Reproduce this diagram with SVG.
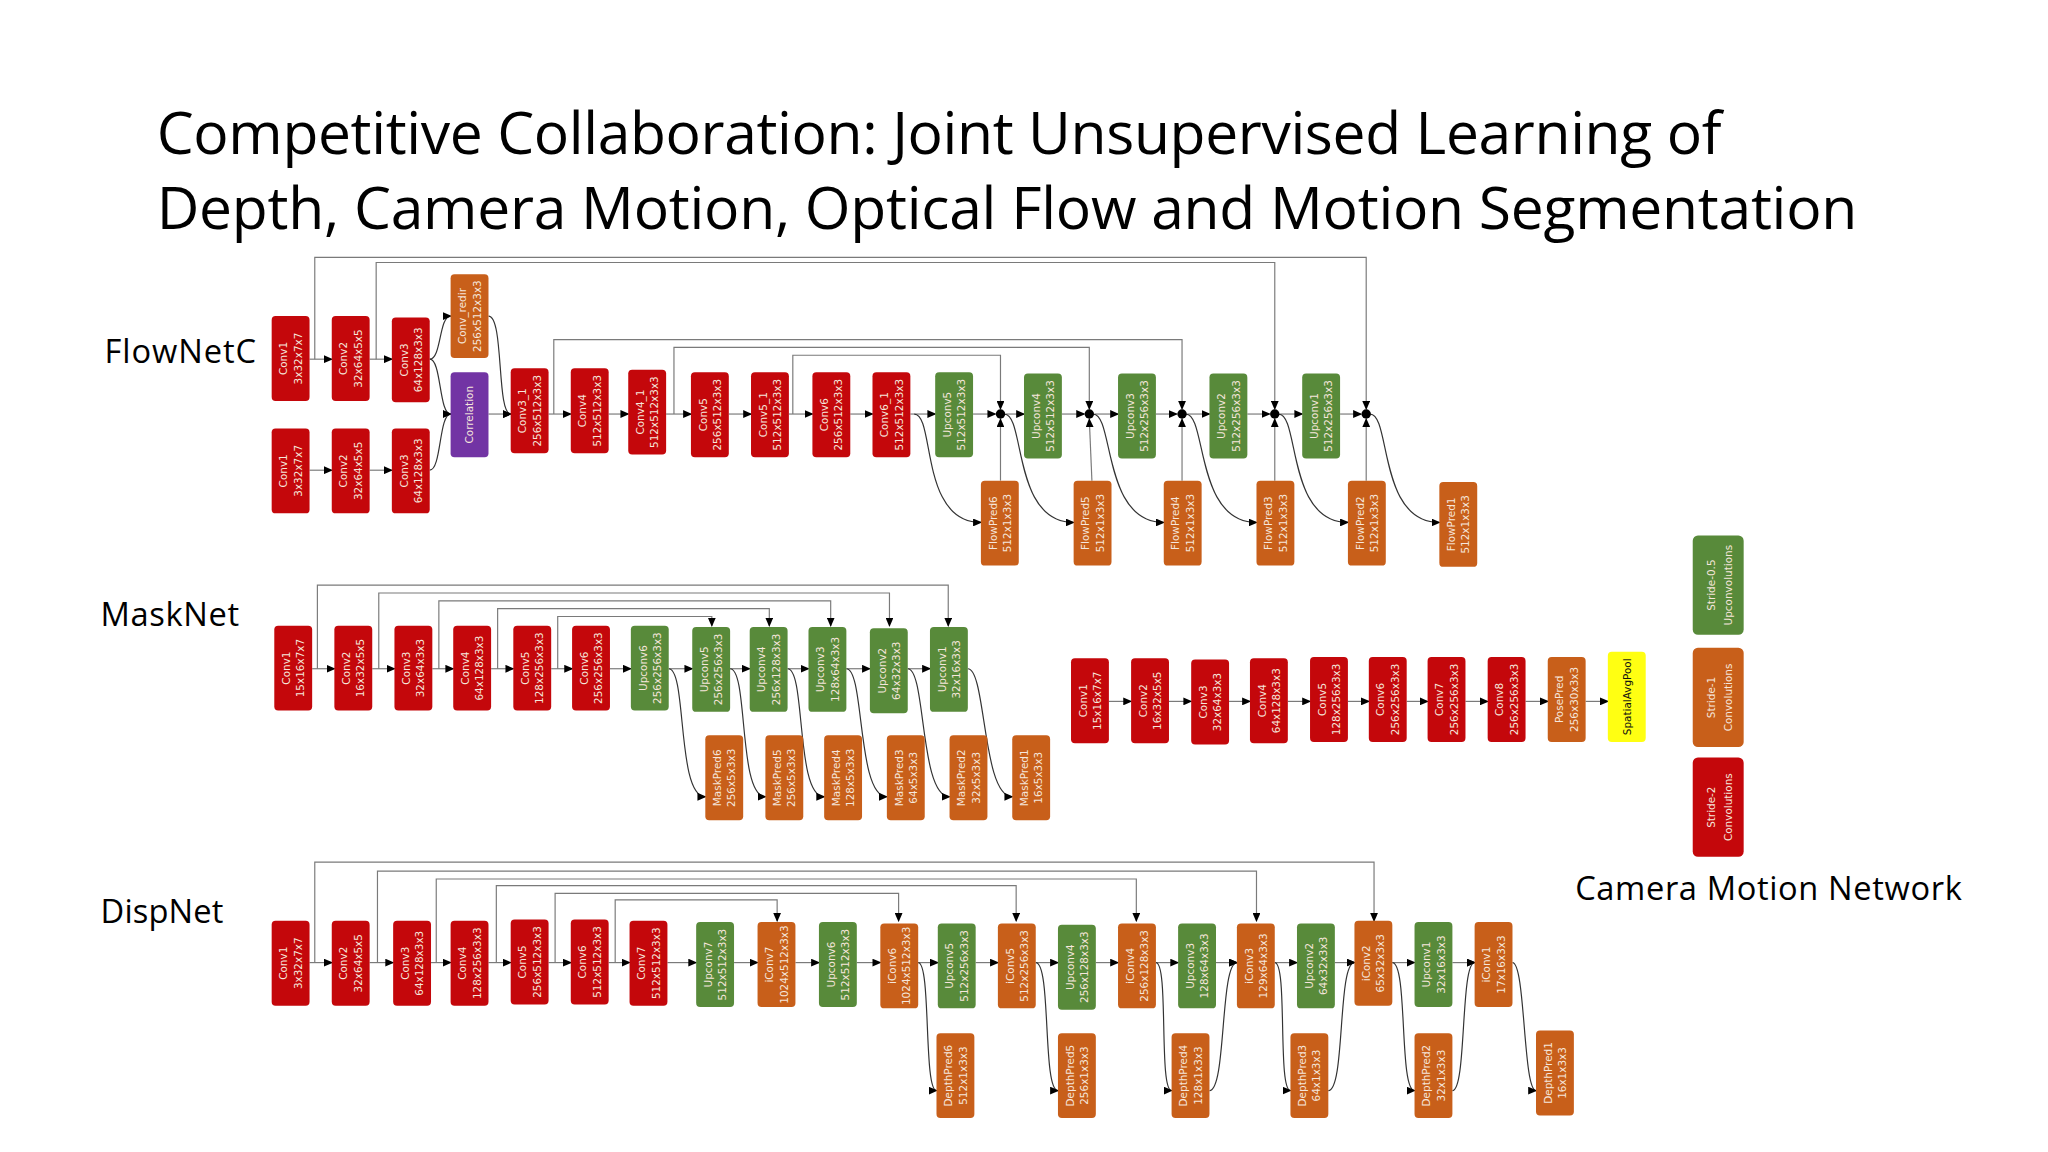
<svg xmlns="http://www.w3.org/2000/svg" width="2048" height="1152" viewBox="0 0 2048 1152">
<style>
.t{font-family:"Open Sans","Liberation Sans",sans-serif;fill:#000}
.n{font-family:"DejaVu Sans","Liberation Sans",sans-serif;font-size:8px;fill:#f6e6dc;text-anchor:middle}
.y .n{fill:#111}
.r rect{fill:#c4070b}
.o rect{fill:#c85f1a}
.g rect{fill:#588a3a}
.p rect{fill:#7234a4}
.y rect{fill:#ffff12}
.c path,.c line{stroke:#7a7a7a;stroke-width:0.9;fill:none}
.c .k{stroke:#333}
.a{marker-end:url(#ar)}
</style>
<defs>
<marker id="ar" markerWidth="7" markerHeight="6" refX="6" refY="3" orient="auto" markerUnits="userSpaceOnUse"><path d="M0,0L7,3L0,6z" fill="#000"/></marker>
</defs>
<rect width="2048" height="1152" fill="#fff"/>
<g transform="scale(1.30612)">
<text class="t" x="120" y="118" font-size="45" textLength="1198">Competitive Collaboration: Joint Unsupervised Learning of</text>
<text class="t" x="120" y="175" font-size="45" textLength="1302">Depth, Camera Motion, Optical Flow and Motion Segmentation</text>
<text class="t" x="80" y="278" font-size="25" textLength="116">FlowNetC</text>
<text class="t" x="77" y="479" font-size="25" textLength="106">MaskNet</text>
<text class="t" x="77" y="707" font-size="25" textLength="94">DispNet</text>
<text class="t" x="1206" y="689" font-size="25" textLength="296">Camera Motion Network</text>

<g id="connectors" class="c">
<line class="a" x1="237" y1="275" x2="254" y2="275"/><line class="a" x1="283" y1="275" x2="300" y2="275"/>
<line class="a" x1="237" y1="360" x2="254" y2="360"/><line class="a" x1="283" y1="360" x2="300" y2="360"/>
<path class="a k" d="M329,275C338,275 336,242 345,242"/>
<path class="a k" d="M329,275C338,275 336,317 345,317"/>
<path class="a k" d="M329,360C338,360 336,317 345,317"/>
<path class="a k" d="M374,242C386,242 380,317 391,317"/>
<line class="a" x1="374" y1="317" x2="391" y2="317"/>
<line class="a" x1="420" y1="317" x2="437" y2="317"/><line class="a" x1="466" y1="317" x2="481" y2="317"/>
<line class="a" x1="510" y1="317" x2="529" y2="317"/><line class="a" x1="558" y1="317" x2="575" y2="317"/>
<line class="a" x1="604" y1="317" x2="622" y2="317"/><line class="a" x1="651" y1="317" x2="668" y2="317"/>
<line class="a" x1="697" y1="317" x2="716" y2="317"/>
<line class="a" x1="745" y1="317" x2="762" y2="317"/><line class="a" x1="770" y1="317" x2="784" y2="317"/>
<line class="a" x1="813" y1="317" x2="830" y2="317"/><line class="a" x1="838" y1="317" x2="856" y2="317"/>
<line class="a" x1="885" y1="317" x2="901" y2="317"/><line class="a" x1="909" y1="317" x2="926" y2="317"/>
<line class="a" x1="955" y1="317" x2="972" y2="317"/><line class="a" x1="980" y1="317" x2="997" y2="317"/>
<line class="a" x1="1026" y1="317" x2="1042" y2="317"/>
<path class="a" d="M241,275V197H1046V313"/>
<path class="a" d="M288,275V201H976V313"/>
<path class="a" d="M424,317V260H905V313"/>
<path class="a" d="M516,317V266H834V313"/>
<path class="a" d="M607,317V272H766V313"/>
<line class="a" x1="766" y1="368" x2="766" y2="321"/><line class="a" x1="836" y1="368" x2="834" y2="321"/>
<line class="a" x1="905" y1="368" x2="905" y2="321"/><line class="a" x1="976" y1="368" x2="976" y2="321"/>
<line class="a" x1="1046" y1="368" x2="1046" y2="321"/>
<path class="a k" d="M700,317C716,317 704,400 751,400"/>
<path class="a k" d="M769,317C785,317 775,400 822,400"/>
<path class="a k" d="M837,317C853,317 844,400 891,400"/>
<path class="a k" d="M908,317C924,317 915,400 962,400"/>
<path class="a k" d="M979,317C995,317 985,400 1032,400"/>
<path class="a k" d="M1049,317C1065,317 1055,400 1102,400"/>
<g fill="#000"><circle cx="766" cy="317" r="3.6"/><circle cx="834" cy="317" r="3.6"/><circle cx="905" cy="317" r="3.6"/><circle cx="976" cy="317" r="3.6"/><circle cx="1046" cy="317" r="3.6"/></g>
<line class="a" x1="239" y1="512" x2="256" y2="512"/><line class="a" x1="285" y1="512" x2="302" y2="512"/>
<line class="a" x1="331" y1="512" x2="347" y2="512"/><line class="a" x1="376" y1="512" x2="393" y2="512"/>
<line class="a" x1="422" y1="512" x2="438" y2="512"/><line class="a" x1="467" y1="512" x2="483" y2="512"/>
<line class="a" x1="512" y1="512" x2="530" y2="512"/><line class="a" x1="559" y1="512" x2="574" y2="512"/>
<line class="a" x1="603" y1="512" x2="619" y2="512"/><line class="a" x1="648" y1="512" x2="666" y2="512"/>
<line class="a" x1="695" y1="512" x2="712" y2="512"/>
<path class="a" d="M243,512V448H726V479"/>
<path class="a" d="M290,512V454H681V479"/>
<path class="a" d="M336,512V460H636V479"/>
<path class="a" d="M381,512V466H589V479"/>
<path class="a" d="M427,512V472H545V479"/>
<path class="a k" d="M512,512C526,512 518,610 540,610"/>
<path class="a k" d="M559,512C573,512 565,610 586,610"/>
<path class="a k" d="M603,512C617,512 609,610 631,610"/>
<path class="a k" d="M648,512C662,512 656,610 679,610"/>
<path class="a k" d="M695,512C709,512 704,610 727,610"/>
<path class="a k" d="M741,512C755,512 752,610 775,610"/>
<line class="a" x1="849" y1="537" x2="866" y2="537"/><line class="a" x1="895" y1="537" x2="912" y2="537"/>
<line class="a" x1="941" y1="537" x2="957" y2="537"/><line class="a" x1="986" y1="537" x2="1003" y2="537"/>
<line class="a" x1="1032" y1="537" x2="1048" y2="537"/><line class="a" x1="1077" y1="537" x2="1093" y2="537"/>
<line class="a" x1="1122" y1="537" x2="1139" y2="537"/><line class="a" x1="1168" y1="537" x2="1185" y2="537"/>
<line class="a" x1="1214" y1="537" x2="1231" y2="537"/>
<line class="a" x1="237" y1="737" x2="254" y2="737"/><line class="a" x1="283" y1="737" x2="301" y2="737"/>
<line class="a" x1="330" y1="737" x2="345" y2="737"/><line class="a" x1="374" y1="737" x2="391" y2="737"/>
<line class="a" x1="420" y1="737" x2="437" y2="737"/><line class="a" x1="466" y1="737" x2="482" y2="737"/>
<line class="a" x1="511" y1="737" x2="533" y2="737"/><line class="a" x1="562" y1="737" x2="580" y2="737"/>
<line class="a" x1="609" y1="737" x2="627" y2="737"/><line class="a" x1="656" y1="737" x2="674" y2="737"/>
<line class="a" x1="703" y1="737" x2="718" y2="737"/><line class="a" x1="747" y1="737" x2="764" y2="737"/>
<line class="a" x1="793" y1="737" x2="810" y2="737"/><line class="a" x1="839" y1="737" x2="856" y2="737"/>
<line class="a" x1="885" y1="737" x2="902" y2="737"/><line class="a" x1="931" y1="737" x2="947" y2="737"/>
<line class="a" x1="976" y1="737" x2="993" y2="737"/><line class="a" x1="1022" y1="737" x2="1037" y2="737"/>
<line class="a" x1="1066" y1="737" x2="1083" y2="737"/><line class="a" x1="1112" y1="737" x2="1129" y2="737"/>
<path class="a" d="M241,737V660H1052V705"/>
<path class="a" d="M289,737V667H962V705"/>
<path class="a" d="M334,737V673H870V705"/>
<path class="a" d="M380,737V678H778V705"/>
<path class="a" d="M425,737V684H688V705"/>
<path class="a" d="M471,737V689H595V705"/>
<path class="a k" d="M703,737C713,737 707,835 717,835"/>
<path class="a k" d="M793,737C805,737 798,835 810,835"/>
<path class="a k" d="M885,737C895,737 887,835 897,835"/>
<path class="a k" d="M976,737C986,737 978,835 988,835"/>
<path class="a k" d="M1066,737C1078,737 1071,835 1083,835"/>
<path class="a k" d="M1158,737C1168,737 1166,835 1176,835"/>
<path class="a k" d="M926,835C939,835 934,737 947,737"/>
<path class="a k" d="M1017,835C1030,835 1024,737 1037,737"/>
<path class="a k" d="M1112,835C1123,835 1118,737 1129,737"/>
</g>

<g id="fc_conv1a" class="r"><rect x="208" y="242" width="29" height="65" rx="3"/><text class="n" transform="translate(220,274.5)rotate(-90)">Conv1</text><text class="n" transform="translate(231,274.5)rotate(-90)">3x32x7x7</text></g>
<g id="fc_conv2a" class="r"><rect x="254" y="242" width="29" height="65" rx="3"/><text class="n" transform="translate(266,274.5)rotate(-90)">Conv2</text><text class="n" transform="translate(277,274.5)rotate(-90)">32x64x5x5</text></g>
<g id="fc_conv3a" class="r"><rect x="300" y="243" width="29" height="65" rx="3"/><text class="n" transform="translate(312,275.5)rotate(-90)">Conv3</text><text class="n" transform="translate(323,275.5)rotate(-90)">64x128x3x3</text></g>
<g id="fc_conv1b" class="r"><rect x="208" y="328" width="29" height="65" rx="3"/><text class="n" transform="translate(220,360.5)rotate(-90)">Conv1</text><text class="n" transform="translate(231,360.5)rotate(-90)">3x32x7x7</text></g>
<g id="fc_conv2b" class="r"><rect x="254" y="328" width="29" height="65" rx="3"/><text class="n" transform="translate(266,360.5)rotate(-90)">Conv2</text><text class="n" transform="translate(277,360.5)rotate(-90)">32x64x5x5</text></g>
<g id="fc_conv3b" class="r"><rect x="300" y="328" width="29" height="65" rx="3"/><text class="n" transform="translate(312,360.5)rotate(-90)">Conv3</text><text class="n" transform="translate(323,360.5)rotate(-90)">64x128x3x3</text></g>
<g id="fc_redir" class="o"><rect x="345" y="210" width="29" height="64" rx="3"/><text class="n" transform="translate(357,242)rotate(-90)">Conv_redir</text><text class="n" transform="translate(368,242)rotate(-90)">256x512x3x3</text></g>
<g id="fc_corr" class="p"><rect x="345" y="285" width="29" height="65" rx="3"/><text class="n" transform="translate(362,317.5)rotate(-90)">Correlation</text></g>
<g id="fc_conv3_1" class="r"><rect x="391" y="282" width="29" height="65" rx="3"/><text class="n" transform="translate(403,314.5)rotate(-90)">Conv3_1</text><text class="n" transform="translate(414,314.5)rotate(-90)">256x512x3x3</text></g>
<g id="fc_conv4" class="r"><rect x="437" y="282" width="29" height="65" rx="3"/><text class="n" transform="translate(449,314.5)rotate(-90)">Conv4</text><text class="n" transform="translate(460,314.5)rotate(-90)">512x512x3x3</text></g>
<g id="fc_conv4_1" class="r"><rect x="481" y="283" width="29" height="65" rx="3"/><text class="n" transform="translate(493,315.5)rotate(-90)">Conv4_1</text><text class="n" transform="translate(504,315.5)rotate(-90)">512x512x3x3</text></g>
<g id="fc_conv5" class="r"><rect x="529" y="285" width="29" height="65" rx="3"/><text class="n" transform="translate(541,317.5)rotate(-90)">Conv5</text><text class="n" transform="translate(552,317.5)rotate(-90)">256x512x3x3</text></g>
<g id="fc_conv5_1" class="r"><rect x="575" y="285" width="29" height="65" rx="3"/><text class="n" transform="translate(587,317.5)rotate(-90)">Conv5_1</text><text class="n" transform="translate(598,317.5)rotate(-90)">512x512x3x3</text></g>
<g id="fc_conv6" class="r"><rect x="622" y="285" width="29" height="65" rx="3"/><text class="n" transform="translate(634,317.5)rotate(-90)">Conv6</text><text class="n" transform="translate(645,317.5)rotate(-90)">256x512x3x3</text></g>
<g id="fc_conv6_1" class="r"><rect x="668" y="285" width="29" height="65" rx="3"/><text class="n" transform="translate(680,317.5)rotate(-90)">Conv6_1</text><text class="n" transform="translate(691,317.5)rotate(-90)">512x512x3x3</text></g>
<g id="fc_up5" class="g"><rect x="716" y="285" width="29" height="65" rx="3"/><text class="n" transform="translate(728,317.5)rotate(-90)">Upconv5</text><text class="n" transform="translate(739,317.5)rotate(-90)">512x512x3x3</text></g>
<g id="fc_up4" class="g"><rect x="784" y="286" width="29" height="65" rx="3"/><text class="n" transform="translate(796,318.5)rotate(-90)">Upconv4</text><text class="n" transform="translate(807,318.5)rotate(-90)">512x512x3x3</text></g>
<g id="fc_up3" class="g"><rect x="856" y="286" width="29" height="65" rx="3"/><text class="n" transform="translate(868,318.5)rotate(-90)">Upconv3</text><text class="n" transform="translate(879,318.5)rotate(-90)">512x256x3x3</text></g>
<g id="fc_up2" class="g"><rect x="926" y="286" width="29" height="65" rx="3"/><text class="n" transform="translate(938,318.5)rotate(-90)">Upconv2</text><text class="n" transform="translate(949,318.5)rotate(-90)">512x256x3x3</text></g>
<g id="fc_up1" class="g"><rect x="997" y="286" width="29" height="65" rx="3"/><text class="n" transform="translate(1009,318.5)rotate(-90)">Upconv1</text><text class="n" transform="translate(1020,318.5)rotate(-90)">512x256x3x3</text></g>
<g id="fc_fp6" class="o"><rect x="751" y="368" width="29" height="65" rx="3"/><text class="n" transform="translate(763,400.5)rotate(-90)">FlowPred6</text><text class="n" transform="translate(774,400.5)rotate(-90)">512x1x3x3</text></g>
<g id="fc_fp5" class="o"><rect x="822" y="368" width="29" height="65" rx="3"/><text class="n" transform="translate(834,400.5)rotate(-90)">FlowPred5</text><text class="n" transform="translate(845,400.5)rotate(-90)">512x1x3x3</text></g>
<g id="fc_fp4" class="o"><rect x="891" y="368" width="29" height="65" rx="3"/><text class="n" transform="translate(903,400.5)rotate(-90)">FlowPred4</text><text class="n" transform="translate(914,400.5)rotate(-90)">512x1x3x3</text></g>
<g id="fc_fp3" class="o"><rect x="962" y="368" width="29" height="65" rx="3"/><text class="n" transform="translate(974,400.5)rotate(-90)">FlowPred3</text><text class="n" transform="translate(985,400.5)rotate(-90)">512x1x3x3</text></g>
<g id="fc_fp2" class="o"><rect x="1032" y="368" width="29" height="65" rx="3"/><text class="n" transform="translate(1044,400.5)rotate(-90)">FlowPred2</text><text class="n" transform="translate(1055,400.5)rotate(-90)">512x1x3x3</text></g>
<g id="fc_fp1" class="o"><rect x="1102" y="369" width="29" height="65" rx="3"/><text class="n" transform="translate(1114,401.5)rotate(-90)">FlowPred1</text><text class="n" transform="translate(1125,401.5)rotate(-90)">512x1x3x3</text></g>

<g id="mn_conv1" class="r"><rect x="210" y="479" width="29" height="65" rx="3"/><text class="n" transform="translate(222,511.5)rotate(-90)">Conv1</text><text class="n" transform="translate(233,511.5)rotate(-90)">15x16x7x7</text></g>
<g id="mn_conv2" class="r"><rect x="256" y="479" width="29" height="65" rx="3"/><text class="n" transform="translate(268,511.5)rotate(-90)">Conv2</text><text class="n" transform="translate(279,511.5)rotate(-90)">16x32x5x5</text></g>
<g id="mn_conv3" class="r"><rect x="302" y="479" width="29" height="65" rx="3"/><text class="n" transform="translate(314,511.5)rotate(-90)">Conv3</text><text class="n" transform="translate(325,511.5)rotate(-90)">32x64x3x3</text></g>
<g id="mn_conv4" class="r"><rect x="347" y="479" width="29" height="65" rx="3"/><text class="n" transform="translate(359,511.5)rotate(-90)">Conv4</text><text class="n" transform="translate(370,511.5)rotate(-90)">64x128x3x3</text></g>
<g id="mn_conv5" class="r"><rect x="393" y="479" width="29" height="65" rx="3"/><text class="n" transform="translate(405,511.5)rotate(-90)">Conv5</text><text class="n" transform="translate(416,511.5)rotate(-90)">128x256x3x3</text></g>
<g id="mn_conv6" class="r"><rect x="438" y="479" width="29" height="65" rx="3"/><text class="n" transform="translate(450,511.5)rotate(-90)">Conv6</text><text class="n" transform="translate(461,511.5)rotate(-90)">256x256x3x3</text></g>
<g id="mn_up6" class="g"><rect x="483" y="479" width="29" height="65" rx="3"/><text class="n" transform="translate(495,511.5)rotate(-90)">Upconv6</text><text class="n" transform="translate(506,511.5)rotate(-90)">256x256x3x3</text></g>
<g id="mn_up5" class="g"><rect x="530" y="480" width="29" height="65" rx="3"/><text class="n" transform="translate(542,512.5)rotate(-90)">Upconv5</text><text class="n" transform="translate(553,512.5)rotate(-90)">256x256x3x3</text></g>
<g id="mn_up4" class="g"><rect x="574" y="480" width="29" height="65" rx="3"/><text class="n" transform="translate(586,512.5)rotate(-90)">Upconv4</text><text class="n" transform="translate(597,512.5)rotate(-90)">256x128x3x3</text></g>
<g id="mn_up3" class="g"><rect x="619" y="480" width="29" height="65" rx="3"/><text class="n" transform="translate(631,512.5)rotate(-90)">Upconv3</text><text class="n" transform="translate(642,512.5)rotate(-90)">128x64x3x3</text></g>
<g id="mn_up2" class="g"><rect x="666" y="481" width="29" height="65" rx="3"/><text class="n" transform="translate(678,513.5)rotate(-90)">Upconv2</text><text class="n" transform="translate(689,513.5)rotate(-90)">64x32x3x3</text></g>
<g id="mn_up1" class="g"><rect x="712" y="480" width="29" height="65" rx="3"/><text class="n" transform="translate(724,512.5)rotate(-90)">Upconv1</text><text class="n" transform="translate(735,512.5)rotate(-90)">32x16x3x3</text></g>
<g id="mn_mp6" class="o"><rect x="540" y="563" width="29" height="65" rx="3"/><text class="n" transform="translate(552,595.5)rotate(-90)">MaskPred6</text><text class="n" transform="translate(563,595.5)rotate(-90)">256x5x3x3</text></g>
<g id="mn_mp5" class="o"><rect x="586" y="563" width="29" height="65" rx="3"/><text class="n" transform="translate(598,595.5)rotate(-90)">MaskPred5</text><text class="n" transform="translate(609,595.5)rotate(-90)">256x5x3x3</text></g>
<g id="mn_mp4" class="o"><rect x="631" y="563" width="29" height="65" rx="3"/><text class="n" transform="translate(643,595.5)rotate(-90)">MaskPred4</text><text class="n" transform="translate(654,595.5)rotate(-90)">128x5x3x3</text></g>
<g id="mn_mp3" class="o"><rect x="679" y="563" width="29" height="65" rx="3"/><text class="n" transform="translate(691,595.5)rotate(-90)">MaskPred3</text><text class="n" transform="translate(702,595.5)rotate(-90)">64x5x3x3</text></g>
<g id="mn_mp2" class="o"><rect x="727" y="563" width="29" height="65" rx="3"/><text class="n" transform="translate(739,595.5)rotate(-90)">MaskPred2</text><text class="n" transform="translate(750,595.5)rotate(-90)">32x5x3x3</text></g>
<g id="mn_mp1" class="o"><rect x="775" y="563" width="29" height="65" rx="3"/><text class="n" transform="translate(787,595.5)rotate(-90)">MaskPred1</text><text class="n" transform="translate(798,595.5)rotate(-90)">16x5x3x3</text></g>

<g id="cm_conv1" class="r"><rect x="820" y="504" width="29" height="65" rx="3"/><text class="n" transform="translate(832,536.5)rotate(-90)">Conv1</text><text class="n" transform="translate(843,536.5)rotate(-90)">15x16x7x7</text></g>
<g id="cm_conv2" class="r"><rect x="866" y="504" width="29" height="65" rx="3"/><text class="n" transform="translate(878,536.5)rotate(-90)">Conv2</text><text class="n" transform="translate(889,536.5)rotate(-90)">16x32x5x5</text></g>
<g id="cm_conv3" class="r"><rect x="912" y="505" width="29" height="65" rx="3"/><text class="n" transform="translate(924,537.5)rotate(-90)">Conv3</text><text class="n" transform="translate(935,537.5)rotate(-90)">32x64x3x3</text></g>
<g id="cm_conv4" class="r"><rect x="957" y="504" width="29" height="65" rx="3"/><text class="n" transform="translate(969,536.5)rotate(-90)">Conv4</text><text class="n" transform="translate(980,536.5)rotate(-90)">64x128x3x3</text></g>
<g id="cm_conv5" class="r"><rect x="1003" y="503" width="29" height="65" rx="3"/><text class="n" transform="translate(1015,535.5)rotate(-90)">Conv5</text><text class="n" transform="translate(1026,535.5)rotate(-90)">128x256x3x3</text></g>
<g id="cm_conv6" class="r"><rect x="1048" y="503" width="29" height="65" rx="3"/><text class="n" transform="translate(1060,535.5)rotate(-90)">Conv6</text><text class="n" transform="translate(1071,535.5)rotate(-90)">256x256x3x3</text></g>
<g id="cm_conv7" class="r"><rect x="1093" y="503" width="29" height="65" rx="3"/><text class="n" transform="translate(1105,535.5)rotate(-90)">Conv7</text><text class="n" transform="translate(1116,535.5)rotate(-90)">256x256x3x3</text></g>
<g id="cm_conv8" class="r"><rect x="1139" y="503" width="29" height="65" rx="3"/><text class="n" transform="translate(1151,535.5)rotate(-90)">Conv8</text><text class="n" transform="translate(1162,535.5)rotate(-90)">256x256x3x3</text></g>
<g id="cm_pose" class="o"><rect x="1185" y="503" width="29" height="65" rx="3"/><text class="n" transform="translate(1197,535.5)rotate(-90)">PosePred</text><text class="n" transform="translate(1208,535.5)rotate(-90)">256x30x3x3</text></g>
<g id="cm_pool" class="y"><rect x="1231" y="499" width="29" height="69" rx="3"/><text class="n" transform="translate(1249,533.5)rotate(-90)">SpatialAvgPool</text></g>
<g id="lg_up" class="g"><rect x="1296" y="410" width="39" height="76" rx="4"/><text class="n" transform="translate(1313,448)rotate(-90)">Stride-0.5</text><text class="n" transform="translate(1326,448)rotate(-90)">Upconvolutions</text></g>
<g id="lg_s1" class="o"><rect x="1296" y="496" width="39" height="76" rx="4"/><text class="n" transform="translate(1313,534)rotate(-90)">Stride-1</text><text class="n" transform="translate(1326,534)rotate(-90)">Convolutions</text></g>
<g id="lg_s2" class="r"><rect x="1296" y="580" width="39" height="76" rx="4"/><text class="n" transform="translate(1313,618)rotate(-90)">Stride-2</text><text class="n" transform="translate(1326,618)rotate(-90)">Convolutions</text></g>

<g id="dn_conv1" class="r"><rect x="208" y="705" width="29" height="65" rx="3"/><text class="n" transform="translate(220,737.5)rotate(-90)">Conv1</text><text class="n" transform="translate(231,737.5)rotate(-90)">3x32x7x7</text></g>
<g id="dn_conv2" class="r"><rect x="254" y="705" width="29" height="65" rx="3"/><text class="n" transform="translate(266,737.5)rotate(-90)">Conv2</text><text class="n" transform="translate(277,737.5)rotate(-90)">32x64x5x5</text></g>
<g id="dn_conv3" class="r"><rect x="301" y="705" width="29" height="65" rx="3"/><text class="n" transform="translate(313,737.5)rotate(-90)">Conv3</text><text class="n" transform="translate(324,737.5)rotate(-90)">64x128x3x3</text></g>
<g id="dn_conv4" class="r"><rect x="345" y="705" width="29" height="65" rx="3"/><text class="n" transform="translate(357,737.5)rotate(-90)">Conv4</text><text class="n" transform="translate(368,737.5)rotate(-90)">128x256x3x3</text></g>
<g id="dn_conv5" class="r"><rect x="391" y="704" width="29" height="65" rx="3"/><text class="n" transform="translate(403,736.5)rotate(-90)">Conv5</text><text class="n" transform="translate(414,736.5)rotate(-90)">256x512x3x3</text></g>
<g id="dn_conv6" class="r"><rect x="437" y="704" width="29" height="65" rx="3"/><text class="n" transform="translate(449,736.5)rotate(-90)">Conv6</text><text class="n" transform="translate(460,736.5)rotate(-90)">512x512x3x3</text></g>
<g id="dn_conv7" class="r"><rect x="482" y="705" width="29" height="65" rx="3"/><text class="n" transform="translate(494,737.5)rotate(-90)">Conv7</text><text class="n" transform="translate(505,737.5)rotate(-90)">512x512x3x3</text></g>
<g id="dn_up7" class="g"><rect x="533" y="706" width="29" height="65" rx="3"/><text class="n" transform="translate(545,738.5)rotate(-90)">Upconv7</text><text class="n" transform="translate(556,738.5)rotate(-90)">512x512x3x3</text></g>
<g id="dn_ic7" class="o"><rect x="580" y="706" width="29" height="65" rx="3"/><text class="n" transform="translate(592,738.5)rotate(-90)">iConv7</text><text class="n" transform="translate(603,738.5)rotate(-90)">1024x512x3x3</text></g>
<g id="dn_up6" class="g"><rect x="627" y="706" width="29" height="65" rx="3"/><text class="n" transform="translate(639,738.5)rotate(-90)">Upconv6</text><text class="n" transform="translate(650,738.5)rotate(-90)">512x512x3x3</text></g>
<g id="dn_ic6" class="o"><rect x="674" y="707" width="29" height="65" rx="3"/><text class="n" transform="translate(686,739.5)rotate(-90)">iConv6</text><text class="n" transform="translate(697,739.5)rotate(-90)">1024x512x3x3</text></g>
<g id="dn_up5" class="g"><rect x="718" y="707" width="29" height="65" rx="3"/><text class="n" transform="translate(730,739.5)rotate(-90)">Upconv5</text><text class="n" transform="translate(741,739.5)rotate(-90)">512x256x3x3</text></g>
<g id="dn_ic5" class="o"><rect x="764" y="707" width="29" height="65" rx="3"/><text class="n" transform="translate(776,739.5)rotate(-90)">iConv5</text><text class="n" transform="translate(787,739.5)rotate(-90)">512x256x3x3</text></g>
<g id="dn_up4" class="g"><rect x="810" y="708" width="29" height="65" rx="3"/><text class="n" transform="translate(822,740.5)rotate(-90)">Upconv4</text><text class="n" transform="translate(833,740.5)rotate(-90)">256x128x3x3</text></g>
<g id="dn_ic4" class="o"><rect x="856" y="707" width="29" height="65" rx="3"/><text class="n" transform="translate(868,739.5)rotate(-90)">iConv4</text><text class="n" transform="translate(879,739.5)rotate(-90)">256x128x3x3</text></g>
<g id="dn_up3" class="g"><rect x="902" y="707" width="29" height="65" rx="3"/><text class="n" transform="translate(914,739.5)rotate(-90)">Upconv3</text><text class="n" transform="translate(925,739.5)rotate(-90)">128x64x3x3</text></g>
<g id="dn_ic3" class="o"><rect x="947" y="707" width="29" height="65" rx="3"/><text class="n" transform="translate(959,739.5)rotate(-90)">iConv3</text><text class="n" transform="translate(970,739.5)rotate(-90)">129x64x3x3</text></g>
<g id="dn_up2" class="g"><rect x="993" y="707" width="29" height="65" rx="3"/><text class="n" transform="translate(1005,739.5)rotate(-90)">Upconv2</text><text class="n" transform="translate(1016,739.5)rotate(-90)">64x32x3x3</text></g>
<g id="dn_ic2" class="o"><rect x="1037" y="705" width="29" height="65" rx="3"/><text class="n" transform="translate(1049,737.5)rotate(-90)">iConv2</text><text class="n" transform="translate(1060,737.5)rotate(-90)">65x32x3x3</text></g>
<g id="dn_up1" class="g"><rect x="1083" y="706" width="29" height="65" rx="3"/><text class="n" transform="translate(1095,738.5)rotate(-90)">Upconv1</text><text class="n" transform="translate(1106,738.5)rotate(-90)">32x16x3x3</text></g>
<g id="dn_ic1" class="o"><rect x="1129" y="706" width="29" height="65" rx="3"/><text class="n" transform="translate(1141,738.5)rotate(-90)">iConv1</text><text class="n" transform="translate(1152,738.5)rotate(-90)">17x16x3x3</text></g>
<g id="dn_dp6" class="o"><rect x="717" y="791" width="29" height="65" rx="3"/><text class="n" transform="translate(729,823.5)rotate(-90)">DepthPred6</text><text class="n" transform="translate(740,823.5)rotate(-90)">512x1x3x3</text></g>
<g id="dn_dp5" class="o"><rect x="810" y="791" width="29" height="65" rx="3"/><text class="n" transform="translate(822,823.5)rotate(-90)">DepthPred5</text><text class="n" transform="translate(833,823.5)rotate(-90)">256x1x3x3</text></g>
<g id="dn_dp4" class="o"><rect x="897" y="791" width="29" height="65" rx="3"/><text class="n" transform="translate(909,823.5)rotate(-90)">DepthPred4</text><text class="n" transform="translate(920,823.5)rotate(-90)">128x1x3x3</text></g>
<g id="dn_dp3" class="o"><rect x="988" y="791" width="29" height="65" rx="3"/><text class="n" transform="translate(1000,823.5)rotate(-90)">DepthPred3</text><text class="n" transform="translate(1011,823.5)rotate(-90)">64x1x3x3</text></g>
<g id="dn_dp2" class="o"><rect x="1083" y="791" width="29" height="65" rx="3"/><text class="n" transform="translate(1095,823.5)rotate(-90)">DepthPred2</text><text class="n" transform="translate(1106,823.5)rotate(-90)">32x1x3x3</text></g>
<g id="dn_dp1" class="o"><rect x="1176" y="789" width="29" height="65" rx="3"/><text class="n" transform="translate(1188,821.5)rotate(-90)">DepthPred1</text><text class="n" transform="translate(1199,821.5)rotate(-90)">16x1x3x3</text></g>
</g>
</svg>
